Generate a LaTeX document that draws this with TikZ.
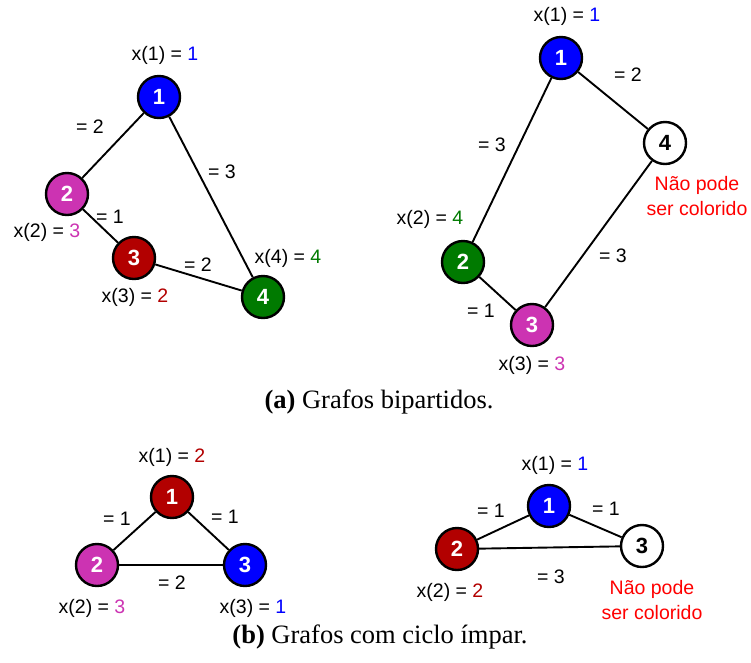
\documentclass[tikz,border=0pt]{standalone}
\usepackage{fontspec}
\setmainfont{Liberation Serif}
\setsansfont{Liberation Sans}
\usetikzlibrary{positioning}

% Colours of the vertices
\definecolor{cblue}{RGB}{0,0,255}
\definecolor{cmag}{RGB}{204,51,178}
\definecolor{cred}{RGB}{178,0,0}
\definecolor{cgreen}{RGB}{0,122,0}
\definecolor{cwarn}{RGB}{255,0,0}

\begin{document}
\begin{tikzpicture}[
    x=1pt, y=-1pt,
    vtx/.style={circle, draw=black, line width=2.4pt, minimum size=42pt, inner sep=0pt,
                text=white, font=\sffamily\bfseries\fontsize{22}{24}\selectfont}, % vertex
    lbl/.style={font=\sffamily\fontsize{19.5}{20}\selectfont, inner sep=1pt}, % labels
    warn/.style={lbl, text=cwarn, align=center, font=\sffamily\fontsize{19.5}{25}\selectfont},
    capt/.style={font=\rmfamily\fontsize{26.5}{28}\selectfont},
    edge/.style={line width=1.9pt}
]
\useasboundingbox (0,0) rectangle (751,662);

% (a) left graph
\node[vtx, fill=cblue]  (a1) at (159,97)  {1};
\node[vtx, fill=cmag]   (a2) at (67,194)  {2};
\node[vtx, fill=cred]   (a3) at (134,258) {3};
\node[vtx, fill=cgreen] (a4) at (263,297) {4};
\draw[edge] (a1) -- (a2);
\draw[edge] (a1) -- (a4);
\draw[edge] (a2) -- (a3);
\draw[edge] (a3) -- (a4);
\node[lbl] (a1x) at (165,55)  {x(1) = \textcolor{cblue}{1}};
\node[lbl] (a2x) at (47,232)  {x(2) = \textcolor{cmag}{3}};
\node[lbl] (a3x) at (135,297) {x(3) = \textcolor{cred}{2}};
\node[lbl] (a4x) at (288,258) {x(4) = \textcolor{cgreen}{4}};
\node[lbl] (a12) at (90,127)  {= 2};
\node[lbl] (a14) at (222,172) {= 3};
\node[lbl] (a23) at (110,217) {= 1};
\node[lbl] (a34) at (198,265) {= 2};

% (a) right graph
\node[vtx, fill=cblue]  (b1) at (561,58)  {1};
\node[vtx, fill=white, text=black] (b4) at (665,143) {4};
\node[vtx, fill=cgreen] (b2) at (463,262) {2};
\node[vtx, fill=cmag]   (b3) at (532,325) {3};
\draw[edge] (b1) -- (b4);
\draw[edge] (b1) -- (b2);
\draw[edge] (b2) -- (b3);
\draw[edge] (b3) -- (b4);
\node[lbl] (b1x) at (567,16)  {x(1) = \textcolor{cblue}{1}};
\node[lbl] (b2x) at (430,219) {x(2) = \textcolor{cgreen}{4}};
\node[lbl] (b3x) at (532,365) {x(3) = \textcolor{cmag}{3}};
\node[lbl] (b14) at (628,75)  {= 2};
\node[lbl] (b12) at (492,145) {= 3};
\node[lbl] (b34) at (613,256) {= 3};
\node[lbl] (b23) at (481,311) {= 1};
\node[warn] (b4w) at (697,196) {Não pode\\ser colorido};

\node[capt] (capa) at (379,402) {\textbf{(a)} Grafos bipartidos.};

% (b) left graph
\node[vtx, fill=cred]  (c1) at (172,497) {1};
\node[vtx, fill=cmag]  (c2) at (97,565)  {2};
\node[vtx, fill=cblue] (c3) at (245,565) {3};
\draw[edge] (c1) -- (c2);
\draw[edge] (c1) -- (c3);
\draw[edge] (c2) -- (c3);
\node[lbl] (c1x) at (172,457) {x(1) = \textcolor{cred}{2}};
\node[lbl] (c2x) at (92,608)  {x(2) = \textcolor{cmag}{3}};
\node[lbl] (c3x) at (253,608) {x(3) = \textcolor{cblue}{1}};
\node[lbl] (c12) at (117,519) {= 1};
\node[lbl] (c13) at (225,517) {= 1};
\node[lbl] (c23) at (172,583) {= 2};

% (b) right graph
\node[vtx, fill=cblue] (d1) at (549,506) {1};
\node[vtx, fill=cred]  (d2) at (457,549) {2};
\node[vtx, fill=white, text=black] (d3) at (642,546) {3};
\draw[edge] (d1) -- (d2);
\draw[edge] (d1) -- (d3);
\draw[edge] (d2) -- (d3);
\node[lbl] (d1x) at (555,465) {x(1) = \textcolor{cblue}{1}};
\node[lbl] (d2x) at (450,592) {x(2) = \textcolor{cred}{2}};
\node[lbl] (d12) at (491,511) {= 1};
\node[lbl] (d13) at (606,509) {= 1};
\node[lbl] (d23) at (551,577) {= 3};
\node[warn] (d3w) at (652,600) {Não pode\\ser colorido};

\node[capt] (capb) at (380,637) {\textbf{(b)} Grafos com ciclo ímpar.};

\end{tikzpicture}
\end{document}
